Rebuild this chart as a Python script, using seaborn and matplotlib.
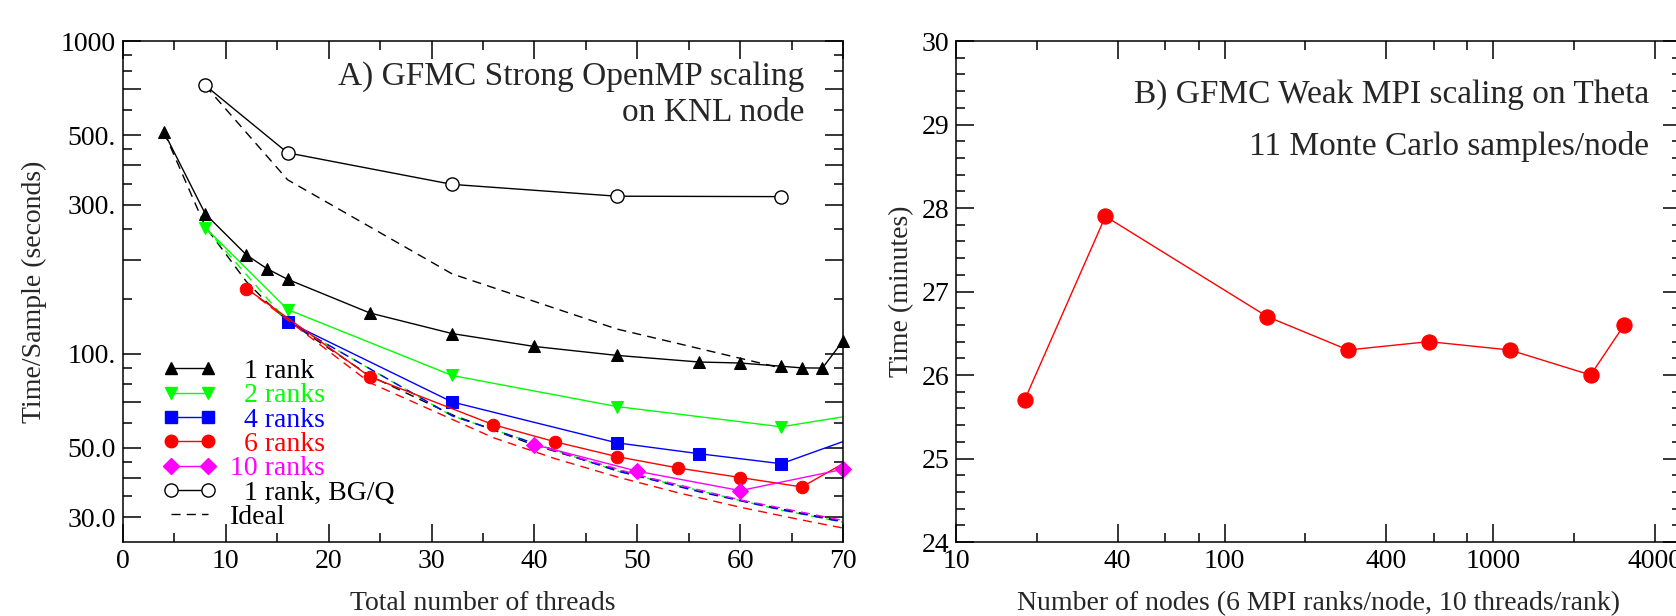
import matplotlib
matplotlib.use('Agg')
from matplotlib import pyplot as plt
from matplotlib.lines import Line2D
from matplotlib.ticker import FixedLocator, FixedFormatter, NullFormatter
import seaborn as sns

# A) time per sample (s) against total threads on one KNL node
threads_1 = [4, 8, 12, 14, 16, 24, 32, 40, 48, 56, 60, 64, 66, 68, 70]
time_1 = [510, 280, 207, 187, 173, 135, 116, 105.5, 98.8, 94.1, 93.4, 91.2, 90.1, 90.0, 110]
ideal_1 = [510, 255, 170, 146, 127.5, 85, 63.8, 51, 42.5, 36.4, 34, 31.9, 30.9, 30.0, 29.1]

threads_2 = [8, 16, 32, 48, 64, 72]
time_2 = [253, 138.5, 85.2, 67.8, 58.4, 64.4]
ideal_2 = [253, 126.5, 63.3, 42.2, 31.6, 28.1]

threads_4 = [16, 32, 48, 56, 64, 72]
time_4 = [126.6, 70.1, 51.9, 47.9, 44.5, 55.3]
ideal_4 = [126.6, 63.3, 42.2, 36.2, 31.7, 28.1]

threads_6 = [12, 24, 36, 42, 48, 54, 60, 66, 72]
time_6 = [161.6, 84.4, 59.3, 52.3, 46.9, 43.1, 40.2, 37.5, 48.5]
ideal_6 = [161.6, 80.8, 53.9, 46.2, 40.4, 35.9, 32.3, 29.4, 26.9]

threads_10 = [40, 50, 60, 70]
time_10 = [51.2, 42.1, 36.5, 42.7]
ideal_10 = [51.2, 41.0, 34.1, 29.3]

threads_bgq = [8, 16, 32, 48, 64]
time_bgq = [721, 439, 348, 319, 318]
ideal_bgq = [720, 360, 180, 120, 90]

# B) weak scaling on Theta
nodes = [18, 36, 144, 288, 576, 1152, 2304, 3072]
minutes = [25.7, 27.9, 26.7, 26.3, 26.4, 26.3, 26.0, 26.6]

legend_labels = ['  1 rank', '  2 ranks', '  4 ranks', '  6 ranks', '10 ranks',
                 '  1 rank, BG/Q', 'Ideal']

GREEN = '#00ff00'
BLUE = '#0000ff'
RED = '#ff0000'
MAGENTA = '#ff00ff'
DASH = (0, (6.5, 4.5))

sns.set_style('ticks')
plt.rcParams['font.family'] = ['Liberation Serif', 'DejaVu Serif']
plt.rcParams['font.size'] = 20
plt.rcParams['axes.linewidth'] = 1.1

fig = plt.figure(figsize=(16.76, 6.16), dpi=100)
ax1 = fig.add_axes([0.0734, 0.1201, 0.4296, 0.8133])
ax2 = fig.add_axes([0.5704, 0.1201, 0.4326, 0.8133])

# ---- panel A ----
series = [
    (threads_1, time_1, ideal_1, 'k', '^', 9, False),
    (threads_2, time_2, ideal_2, GREEN, 'v', 9, True),
    (threads_4, time_4, ideal_4, BLUE, 's', 8.5, True),
    (threads_6, time_6, ideal_6, RED, 'o', 9, True),
    (threads_10, time_10, ideal_10, MAGENTA, 'D', 8.5, False),
]
for x, y, ideal, col, mk, ms, clip in series:
    sns.lineplot(x=x, y=ideal, ax=ax1, color=col, lw=1.0, linestyle=DASH)
    sns.lineplot(x=x, y=y, ax=ax1, color=col, lw=1.0, marker=mk, markersize=ms,
                 markeredgecolor=col, markerfacecolor=col, clip_on=clip)

sns.lineplot(x=threads_bgq, y=ideal_bgq, ax=ax1, color='k', lw=1.0, linestyle=DASH)
sns.lineplot(x=threads_bgq, y=time_bgq, ax=ax1, color='k', lw=1.0, marker='o',
             markersize=9.5, markeredgecolor='k', markerfacecolor='white',
             markeredgewidth=1.0)

ax1.set_yscale('log')
ax1.set_xlim(0, 70)
ax1.set_ylim(25, 1000)

long_y = [30, 40, 50, 70, 100, 200, 300, 400, 500, 700, 1000]
short_y = [35, 45, 60, 80, 90, 150, 250, 350, 450, 600, 800, 900]
long_y_text = ['30.0', '', '50.0', '', '100.', '', '300.', '', '500.', '', '1000']
ax1.yaxis.set_major_locator(FixedLocator(long_y))
ax1.yaxis.set_major_formatter(FixedFormatter(long_y_text))
ax1.yaxis.set_minor_locator(FixedLocator(short_y))
ax1.yaxis.set_minor_formatter(NullFormatter())
ax1.xaxis.set_major_locator(FixedLocator(range(0, 71, 10)))
ax1.xaxis.set_minor_locator(FixedLocator(range(5, 70, 10)))

ax1.set_xlabel('Total number of threads', fontsize=20, labelpad=12)
ax1.set_ylabel('Time/Sample (seconds)', fontsize=20, labelpad=10)

ax1.text(0.946, 0.928, 'A) GFMC Strong OpenMP scaling', transform=ax1.transAxes,
         ha='right', va='center', fontsize=24)
ax1.text(0.946, 0.856, 'on KNL node', transform=ax1.transAxes,
         ha='right', va='center', fontsize=24)

handles = [
    Line2D([], [], color='k', lw=1.0, marker='^', ms=9, mec='k', mfc='k'),
    Line2D([], [], color=GREEN, lw=1.0, marker='v', ms=9, mec=GREEN, mfc=GREEN),
    Line2D([], [], color=BLUE, lw=1.0, marker='s', ms=8.5, mec=BLUE, mfc=BLUE),
    Line2D([], [], color=RED, lw=1.0, marker='o', ms=9, mec=RED, mfc=RED),
    Line2D([], [], color=MAGENTA, lw=1.0, marker='D', ms=8.5, mec=MAGENTA, mfc=MAGENTA),
    Line2D([], [], color='k', lw=1.0, marker='o', ms=9.5, mec='k', mfc='white'),
    Line2D([], [], color='k', lw=1.0, linestyle=DASH),
]
leg = ax1.legend(handles, legend_labels, loc='upper left', bbox_to_anchor=(0.0556, 0.366),
                 frameon=False, numpoints=2, handlelength=1.92, handletextpad=0.5,
                 labelspacing=-0.04, borderpad=0, borderaxespad=0, fontsize=20)
for txt, col in zip(leg.get_texts(), ['k', GREEN, BLUE, RED, MAGENTA, 'k', 'k']):
    txt.set_color(col)

# ---- panel B ----
sns.lineplot(x=nodes, y=minutes, ax=ax2, color=RED, lw=1.0, marker='o',
             markersize=11, markeredgecolor=RED, markerfacecolor=RED)
ax2.set_xscale('log')
ax2.set_xlim(10, 5000)
ax2.set_ylim(24, 30)
ax2.xaxis.set_major_locator(FixedLocator([10, 40, 100, 400, 1000, 4000]))
ax2.xaxis.set_major_formatter(FixedFormatter(['10', '40', '100', '400', '1000', '4000']))
ax2.xaxis.set_minor_locator(FixedLocator([20, 60, 80, 200, 600, 800, 2000]))
ax2.xaxis.set_minor_formatter(NullFormatter())
ax2.yaxis.set_major_locator(FixedLocator(range(24, 31)))
ax2.yaxis.set_minor_locator(FixedLocator([24 + 0.2 * i for i in range(31) if i % 5]))
ax2.set_xlabel('Number of nodes (6 MPI ranks/node, 10 threads/rank)', fontsize=20, labelpad=12)
ax2.set_ylabel('Time (minutes)', fontsize=20, labelpad=5)

ax2.text(0.956, 0.894, 'B) GFMC Weak MPI scaling on Theta', transform=ax2.transAxes,
         ha='right', va='center', fontsize=24)
ax2.text(0.956, 0.790, '11 Monte Carlo samples/node', transform=ax2.transAxes,
         ha='right', va='center', fontsize=24)

for ax in (ax1, ax2):
    ax.tick_params(which='both', direction='in', top=True, right=True,
                   colors='k', labelsize=20, width=1.1, pad=5)
    ax.tick_params(which='major', length=13)
    ax.tick_params(which='minor', length=6.5)
    for sp in ax.spines.values():
        sp.set_visible(True)
        sp.set_color('k')

fig.savefig('out.png', dpi=100)
